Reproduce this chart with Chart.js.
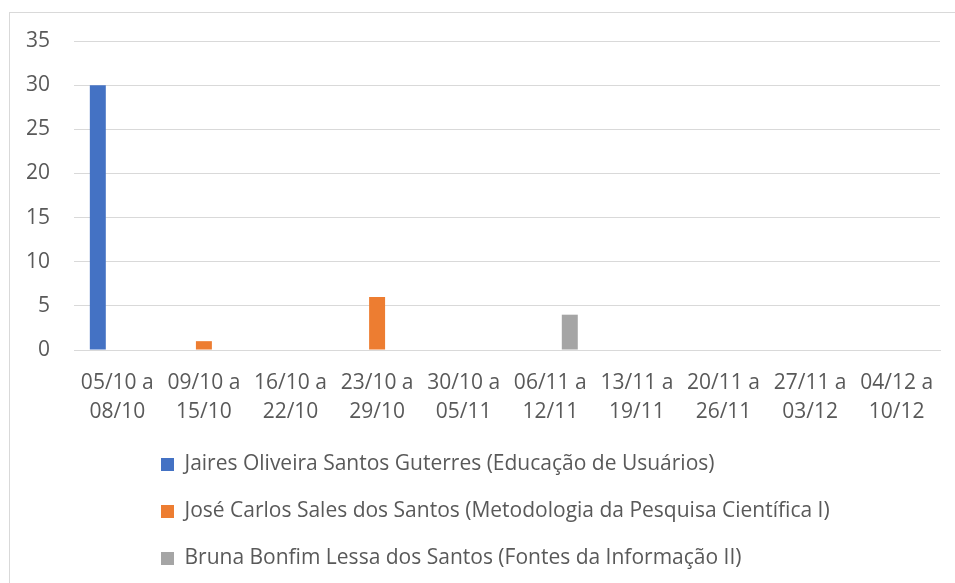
<!DOCTYPE html>
<html>
<head>
<meta charset="utf-8">
<script src="https://cdn.jsdelivr.net/npm/chart.js@4"></script>
<style>
  html, body { margin: 0; padding: 0; background: #fff; overflow: hidden; }
  #wrap { position: relative; width: 955px; height: 583px; }
  #frame { position: absolute; left: 9px; top: 12px; width: 1000px; height: 700px; border: 1px solid #d9d9d9; box-sizing: border-box; }
  #c { position: absolute; left: 0; top: 0; }
</style>
</head>
<body>
<div id="wrap">
  <div id="frame"></div>
  <canvas id="c" width="955" height="583"></canvas>
</div>
<script>
const weeks = [
  ['05/10 a', '08/10'], ['09/10 a', '15/10'], ['16/10 a', '22/10'], ['23/10 a', '29/10'],
  ['30/10 a', '05/11'], ['06/11 a', '12/11'], ['13/11 a', '19/11'], ['20/11 a', '26/11'],
  ['27/11 a', '03/12'], ['04/12 a', '10/12']
];
const seriesNames = [
  'Jaires Oliveira Santos Guterres (Educação de Usuários)',
  'José Carlos Sales dos Santos (Metodologia da Pesquisa Científica I)',
  'Bruna Bonfim Lessa dos Santos (Fontes da Informação II)'
];
const jaires = [30, 0, 0, 0, 0, 0, 0, 0, 0, 0];
const joseCarlos = [0, 1, 0, 6, 0, 0, 0, 0, 0, 0];
const bruna = [0, 0, 0, 0, 0, 4, 0, 0, 0, 0];
const colors = ['#4472C4', '#ED7D31', '#A5A5A5'];

const font = "'Open Sans', sans-serif";
const grey = '#595959';
const legendPad = 26;

// move the legend block so the rows start at the same left edge as the original
const legendShift = {
  id: 'legendShift',
  afterLayout(chart) {
    const lg = chart.legend;
    const dx = 135 - lg.left;
    const dy = 428 - lg.top;
    lg.left += dx; lg.right += dx;
    lg.top += dy; lg.bottom += dy;
  }
};

new Chart(document.getElementById('c'), {
  type: 'bar',
  data: {
    labels: weeks,
    datasets: [jaires, joseCarlos, bruna].map((d, i) => ({
      label: seriesNames[i],
      data: d,
      backgroundColor: colors[i],
      barPercentage: 0.82,
      categoryPercentage: 0.675
    }))
  },
  options: {
    responsive: false,
    animation: false,
    layout: { padding: { left: 20, right: 15, top: 41, bottom: 0 } },
    scales: {
      x: {
        grid: { display: false, drawTicks: false },
        border: { color: '#d9d9d9' },
        ticks: { color: grey, font: { family: font, size: 21, lineHeight: 1.35 }, maxRotation: 0, autoSkip: false, padding: 19 },
        afterFit(s) { s.height = 82; }
      },
      y: {
        min: 0, max: 35,
        grid: { color: '#d9d9d9', drawTicks: false },
        border: { display: false },
        ticks: { stepSize: 5, color: grey, font: { family: font, size: 21 }, padding: 24 },
        afterFit(s) { s.width = 54; }
      }
    },
    plugins: {
      tooltip: { enabled: false },
      legend: {
        position: 'bottom',
        align: 'start',
        labels: {
          color: grey,
          font: { family: font, size: 21 },
          boxWidth: 13, boxHeight: 13,
          padding: legendPad
        }
      }
    }
  },
  plugins: [legendShift]
});
</script>
</body>
</html>
